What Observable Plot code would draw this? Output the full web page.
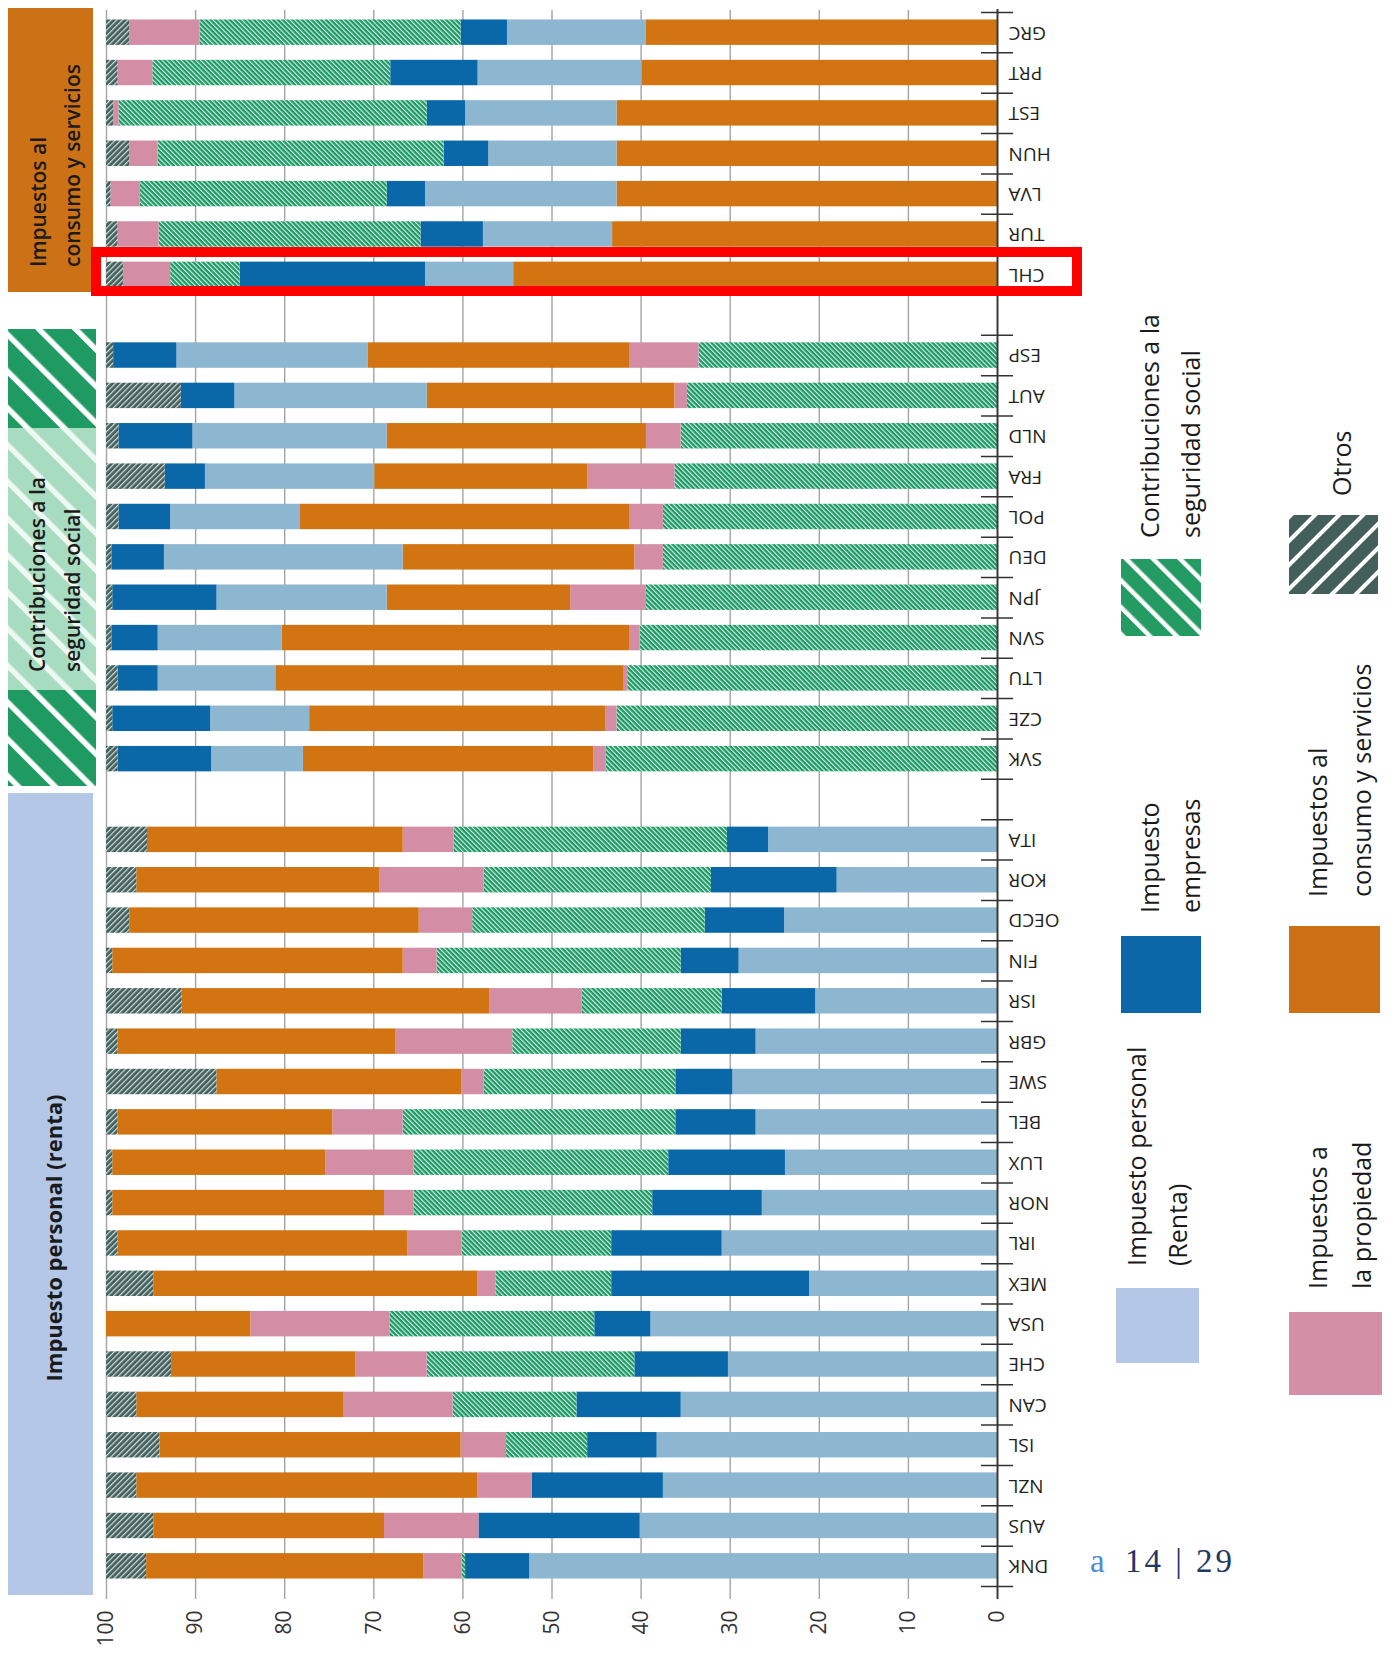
<!DOCTYPE html>
<html><head><meta charset="utf-8">
<script src="https://cdn.jsdelivr.net/npm/d3@7"></script>
<script src="https://cdn.jsdelivr.net/npm/@observablehq/plot@0.6"></script>
<style>
html,body{margin:0;padding:0;background:#fff;}
#wrap{position:relative;width:1396px;height:1655px;overflow:hidden;background:#fff;}
#wrap svg{position:absolute;left:0;top:0;}
</style></head><body><div id="wrap"></div>
<script>
// ---------- DATA ----------
const grupoConsumo = ["GRC","PRT","EST","HUN","LVA","TUR","CHL"];
const grupoSeguridad = ["ESP","AUT","NLD","FRA","POL","DEU","JPN","SVN","LTU","CZE","SVK"];
const grupoRenta = ["ITA","KOR","OECD","FIN","ISR","GBR","SWE","BEL","LUX","NOR","IRL","MEX","USA","CHE","CAN","ISL","NZL","AUS","DNK"];
const countries = [...grupoConsumo, ...grupoSeguridad, ...grupoRenta];

// % of total tax revenue, aligned with `countries`
const personal  = [15.6,18.4,17.0,14.4,21.5,14.5,9.9, 21.5,21.6,21.8,19.0,14.5,26.8,19.1,13.9,13.2,11.1,10.3, 25.7,18.0,23.9,29.0,20.4,27.1,29.7,27.1,23.8,26.4,30.9,21.1,38.9,30.2,35.5,38.2,37.5,40.1,52.5];
const empresas  = [5.2,9.8,4.3,5.0,4.3,7.0,20.8, 7.1,6.0,8.3,4.5,5.8,5.9,11.7,5.2,4.5,11.0,10.5, 4.6,14.1,8.9,6.5,10.5,8.4,6.4,9.0,13.1,12.3,12.4,22.2,6.3,10.5,11.7,7.8,14.7,18.1,7.2];
const seguridad = [29.3,26.7,34.6,32.1,27.7,29.4,7.8, 33.5,34.8,35.5,36.2,37.5,37.5,39.4,40.1,41.5,42.7,43.9, 30.7,25.5,26.1,27.4,15.7,18.9,21.5,30.6,28.6,26.8,16.8,13.0,23.0,23.3,13.9,9.1,0,0,0.4];
const propiedad = [7.9,3.9,0.6,3.2,3.3,4.6,5.3, 7.8,1.4,3.9,9.8,3.8,3.2,8.5,1.2,0.4,1.3,1.4, 5.7,11.7,6.0,3.8,10.4,13.1,2.5,7.9,9.9,3.3,6.1,2.0,15.6,8.0,12.3,5.1,6.1,10.6,4.3];
const consumo   = [39.4,39.9,42.7,42.7,42.7,43.2,54.3, 29.3,27.8,29.1,23.9,37.0,26.0,20.6,39.0,39.1,33.2,32.6, 28.7,27.3,32.5,32.6,34.5,31.2,27.5,24.1,23.9,30.5,32.5,36.4,16.2,20.7,23.2,33.8,38.3,25.9,31.1];
const otros     = [2.6,1.3,0.8,2.6,0.5,1.3,1.9, 0.8,8.4,1.4,6.6,1.4,0.6,0.7,0.6,1.3,0.7,1.3, 4.6,3.4,2.6,0.7,8.5,1.3,12.4,1.3,0.7,0.7,1.3,5.3,0,7.3,3.4,6.0,3.4,5.3,4.5];

// stacking order (from 0 outward) in each group
const ordenConsumo   = ["consumo","personal","empresas","seguridad","propiedad","otros"];
const ordenSeguridad = ["seguridad","propiedad","consumo","personal","empresas","otros"];
const ordenRenta     = ["personal","empresas","seguridad","propiedad","consumo","otros"];

const xTicks = [0,10,20,30,40,50,60,70,80,90,100];

// ---------- BUILD ----------
const seriesValues = {personal, empresas, seguridad, propiedad, consumo, otros};
const fills = {
  personal: "#8db6d1",
  empresas: "#0a67a8",
  seguridad: "url(#hSS)",
  propiedad: "#d38da5",
  consumo: "#d17411",
  otros: "url(#hOt)"
};
const data = [];
countries.forEach((c, i) => {
  const orden = grupoConsumo.includes(c) ? ordenConsumo : grupoSeguridad.includes(c) ? ordenSeguridad : ordenRenta;
  for (const s of orden) data.push({country: c, serie: s, value: seriesValues[s][i]});
});
const slots = [...grupoConsumo, "·1", ...grupoSeguridad, "·2", ...grupoRenta];

const W = 1396, H = 1655, mL = 106, mR = 399, mT = 12, mB = 69;
const step = (H - mT - mB) / slots.length;

const chart = Plot.plot({
  width: W, height: H,
  marginLeft: mL, marginRight: mR, marginTop: mT, marginBottom: mB,
  style: {fontFamily: "'Open Sans', sans-serif", background: "transparent", overflow: "visible", color: "#333"},
  x: {domain: [0, 100], reverse: true, axis: null},
  y: {domain: slots, paddingInner: 0.37, paddingOuter: 0.185, round: false, axis: null},
  color: {type: "identity"},
  marks: [
    Plot.ruleX(xTicks.filter(t => t > 0), {stroke: "#a3a3a3", strokeWidth: 1.4, insetTop: -2, insetBottom: -13}),
    Plot.barX(data, Plot.stackX({y: "country", x: "value", fill: d => fills[d.serie], order: null})),
    Plot.ruleX([0], {stroke: "#3a3a3a", strokeWidth: 2, insetTop: -3, insetBottom: -13}),
    Plot.ruleY(slots, {y: d => d, x1: 1.8, x2: -1.8, dy: step / 2, stroke: "#333", strokeWidth: 1.5}),
    Plot.ruleY(slots.slice(0, 1), {y: d => d, x1: 1.8, x2: -1.8, dy: -step / 2, stroke: "#333", strokeWidth: 1.5}),
    Plot.text(countries, {x: d => 0, y: d => d, text: d => d, rotate: 180, textAnchor: "end", dx: 11, fontSize: 19, fill: "#231f20"}),
    Plot.axisX(xTicks, {anchor: "bottom", tickRotate: -90, tickSize: 0, tickPadding: 24, fontSize: 21, label: null, fill: "#333"})
  ]
});

const defs = document.createElementNS("http://www.w3.org/2000/svg", "defs");
defs.innerHTML = `
<pattern id="hSS" patternUnits="userSpaceOnUse" width="3.4" height="3.4" patternTransform="rotate(-45)">
  <rect width="3.4" height="3.4" fill="#1d9766"/><rect width="1.15" height="3.4" fill="#d2f2e1"/>
</pattern>
<pattern id="hOt" patternUnits="userSpaceOnUse" width="4" height="4" patternTransform="rotate(45)">
  <rect width="4" height="4" fill="#425d5a"/><rect width="1.3" height="4" fill="#cbdad8"/>
</pattern>`;
chart.insertBefore(defs, chart.firstChild);
document.getElementById("wrap").appendChild(chart);

// ---------- OVERLAY: group panels, highlight, legend ----------
const ov = `
<svg xmlns="http://www.w3.org/2000/svg" width="${W}" height="${H}" style="pointer-events:none;font-family:'Open Sans',sans-serif">
<defs>
<pattern id="pDark" patternUnits="userSpaceOnUse" width="26" height="26" patternTransform="rotate(-45)">
  <rect width="26" height="26" fill="#1f9a62"/><rect width="5.5" height="26" fill="#ffffff"/>
</pattern>
<pattern id="pLight" patternUnits="userSpaceOnUse" width="26" height="26" patternTransform="rotate(-45)">
  <rect width="26" height="26" fill="#a8dcc0"/><rect width="5.5" height="26" fill="#eef9f3"/>
</pattern>
<pattern id="lSS" patternUnits="userSpaceOnUse" width="19" height="19" patternTransform="rotate(-45)">
  <rect width="19" height="19" fill="#239b63"/><rect width="4.5" height="19" fill="#ffffff"/>
</pattern>
<pattern id="lOt" patternUnits="userSpaceOnUse" width="17" height="17" patternTransform="rotate(45)">
  <rect width="17" height="17" fill="#435e5b"/><rect width="4" height="17" fill="#ffffff"/>
</pattern>
</defs>
<rect x="8" y="8" width="85" height="284" fill="#cd7117"/>
<g font-size="21" font-weight="600" fill="#1a1a1a">
  <text transform="translate(46,267) rotate(-90)">Impuestos al</text>
  <text transform="translate(80,267) rotate(-90)">consumo y servicios</text>
</g>
<rect x="8" y="329" width="88" height="457" fill="url(#pDark)"/>
<rect x="8" y="428" width="88" height="262" fill="url(#pLight)"/>
<g font-size="21" font-weight="600" fill="#1a1a1a">
  <text transform="translate(45,672) rotate(-90)">Contribuciones a la</text>
  <text transform="translate(80,672) rotate(-90)">seguridad social</text>
</g>
<rect x="8" y="793" width="85" height="802" fill="#b4c7e7"/>
<text transform="translate(62,1238) rotate(-90)" text-anchor="middle" font-size="22" font-weight="700" fill="#1a1a1a">Impuesto personal (renta)</text>

<rect x="96" y="252" width="981" height="39" fill="none" stroke="#ff0000" stroke-width="10"/>

<g font-size="25" fill="#1a1a1a">
  <rect x="1121" y="559" width="80" height="77" fill="url(#lSS)"/>
  <text transform="translate(1159,538) rotate(-90)">Contribuciones a la</text>
  <text transform="translate(1200,538) rotate(-90)">seguridad social</text>

  <rect x="1289" y="515" width="89" height="79" fill="url(#lOt)"/>
  <text transform="translate(1351,496) rotate(-90)">Otros</text>

  <rect x="1121" y="936" width="80" height="77" fill="#0b67a7"/>
  <text transform="translate(1159,913) rotate(-90)">Impuesto</text>
  <text transform="translate(1200,913) rotate(-90)">empresas</text>

  <rect x="1289" y="926" width="91" height="87" fill="#cd7114"/>
  <text transform="translate(1327,897) rotate(-90)">Impuestos al</text>
  <text transform="translate(1371,897) rotate(-90)">consumo y servicios</text>

  <rect x="1116" y="1288" width="83" height="75" fill="#b4c7e7"/>
  <text transform="translate(1146,1266) rotate(-90)">Impuesto personal</text>
  <text transform="translate(1187,1266) rotate(-90)">(Renta)</text>

  <rect x="1289" y="1312" width="93" height="83" fill="#d38fa6"/>
  <text transform="translate(1327,1289) rotate(-90)">Impuestos a</text>
  <text transform="translate(1371,1289) rotate(-90)">la propiedad</text>
</g>
<text x="1090" y="1572" font-family="'Liberation Serif',serif" font-size="33" letter-spacing="3"><tspan fill="#4f8ad6">a</tspan><tspan x="1125" fill="#1f3864">14 | 29</tspan></text>
</svg>`;
document.getElementById("wrap").insertAdjacentHTML("beforeend", ov);
</script>
</body></html>
